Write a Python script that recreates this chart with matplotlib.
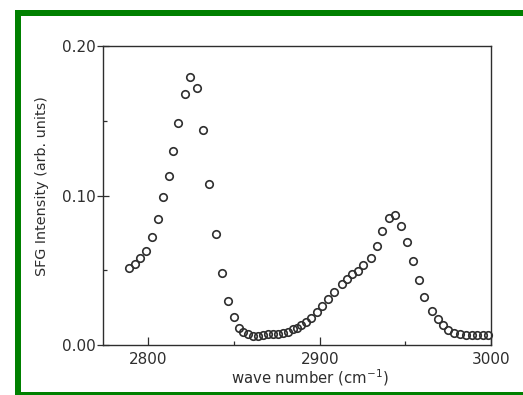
"""SFG spectrum — open circles, two CH-stretch peaks."""

import matplotlib

matplotlib.use("Agg")
import matplotlib.pyplot as plt
from matplotlib.patches import Rectangle
from matplotlib.ticker import MultipleLocator

# wave number (cm-1) and SFG intensity (arb. units)
wavenumber = [
    2788.9, 2792.2, 2795.3, 2798.6, 2801.9, 2805.4, 2808.4, 2811.9, 2814.2,
    2817.5, 2821.4, 2824.1, 2828.2, 2831.7, 2835.6, 2839.3, 2842.8, 2846.5,
    2849.8, 2852.9, 2855.4, 2858.4, 2861.3, 2864.2, 2867.1, 2870.0, 2873.0,
    2875.9, 2878.8, 2881.7, 2884.2, 2886.6, 2889.1, 2891.8, 2894.9, 2898.2,
    2901.6, 2905.1, 2908.4, 2912.8, 2915.8, 2919.1, 2922.2, 2925.5, 2929.8,
    2933.3, 2936.6, 2940.5, 2944.0, 2947.5, 2951.2, 2954.7, 2958.2, 2961.1,
    2965.4, 2969.3, 2972.2, 2975.1, 2978.4, 2981.9, 2985.4, 2988.7, 2992.0,
    2995.1, 2998.1,
]
intensity = [
    0.0516, 0.0543, 0.0581, 0.0632, 0.0720, 0.0842, 0.0990, 0.1133, 0.1296,
    0.1488, 0.1678, 0.1792, 0.1716, 0.1439, 0.1077, 0.0742, 0.0480, 0.0297,
    0.0185, 0.0112, 0.0089, 0.0074, 0.0063, 0.0058, 0.0067, 0.0072, 0.0074,
    0.0074, 0.0078, 0.0089, 0.0107, 0.0116, 0.0134, 0.0152, 0.0179, 0.0219,
    0.0264, 0.0308, 0.0353, 0.0407, 0.0442, 0.0476, 0.0498, 0.0532, 0.0581,
    0.0664, 0.0760, 0.0849, 0.0872, 0.0798, 0.0686, 0.0565, 0.0436, 0.0324,
    0.0228, 0.0174, 0.0134, 0.0101, 0.0083, 0.0072, 0.0067, 0.0067, 0.0067,
    0.0067, 0.0067,
]

x_ticks = [2800, 2900, 3000]
y_ticks = [0.00, 0.10, 0.20]
y_ticklabels = ["0.00", "0.10", "0.20"]

INK = "#2e2e2e"
FRAME = "#008000"

plt.rcParams["font.family"] = ["DejaVu Sans"]

fig = plt.figure(figsize=(5.23, 3.95), dpi=100)
ax = fig.add_axes([103 / 523, 50 / 395, 388 / 523, 299 / 395])

ax.plot(
    wavenumber,
    intensity,
    linestyle="none",
    marker="o",
    markersize=5.4,
    markerfacecolor="none",
    markeredgecolor=INK,
    markeredgewidth=1.2,
    clip_on=False,
)

ax.set_xlim(2773.5, 3000)
ax.set_ylim(0, 0.20)
ax.set_xticks(x_ticks)
ax.set_yticks(y_ticks)
ax.set_yticklabels(y_ticklabels)
ax.xaxis.set_minor_locator(MultipleLocator(50))
ax.yaxis.set_minor_locator(MultipleLocator(0.05))

ax.tick_params(axis="x", which="major", direction="in", length=6, width=0.9,
               color=INK, labelsize=11, labelcolor=INK, pad=5)
ax.tick_params(axis="x", which="minor", direction="in", length=3, width=0.9,
               color=INK)
ax.tick_params(axis="y", which="major", direction="inout", length=9, width=0.9,
               color=INK, labelsize=11, labelcolor=INK, pad=0.5)
ax.tick_params(axis="y", which="minor", direction="in", length=3, width=0.9,
               color=INK)

for spine in ax.spines.values():
    spine.set_linewidth(1.0)
    spine.set_color(INK)

ax.set_xlabel(r"wave number (cm$^{-1}$)", fontsize=10.7, color=INK)
ax.xaxis.set_label_coords(0.534, -0.076)
ax.set_ylabel("SFG Intensity (arb. units)", fontsize=10.4, color=INK)
ax.yaxis.set_label_coords(-0.138, 0.532)

# green frame around the picture (cropped at right and bottom)
for x0, y0, w, h in [(0.15, 3.79, 5.08, 0.06), (0.15, 0.0, 0.06, 3.85),
                     (0.15, 0.0, 5.08, 0.03)]:
    fig.add_artist(Rectangle((x0, y0), w, h, transform=fig.dpi_scale_trans,
                             facecolor=FRAME, edgecolor="none"))

fig.savefig("out.png", dpi=100, facecolor="white")
